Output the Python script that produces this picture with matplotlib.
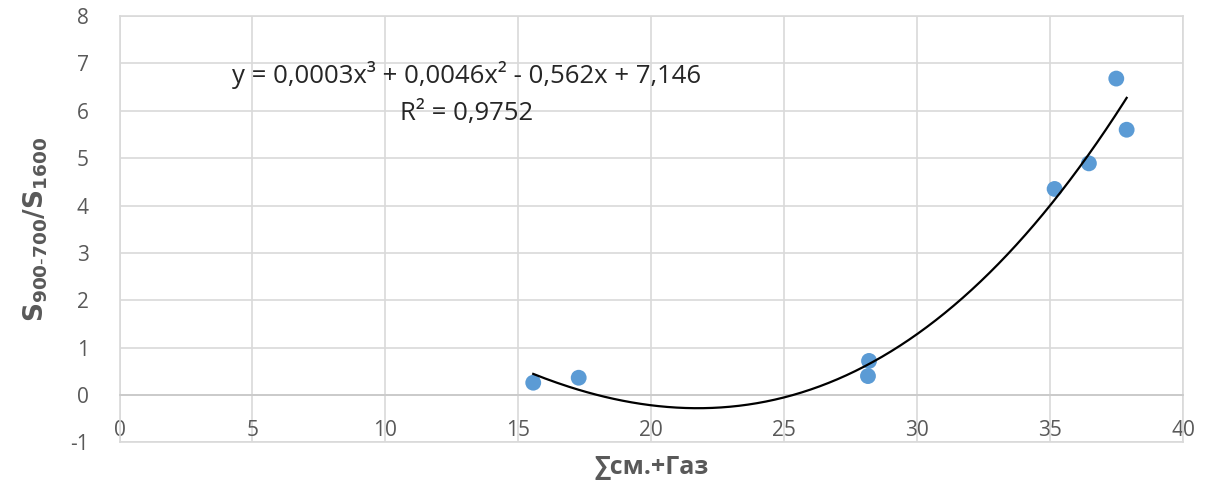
"""Scatter with cubic trendline: S900-700/S1600 vs sum of components."""

import matplotlib

matplotlib.use("Agg")
import matplotlib.pyplot as plt
import numpy as np

# data
x_vals = [15.56, 17.27, 28.19, 28.15, 35.17, 36.46, 37.49, 37.88]
y_vals = [0.26, 0.365, 0.72, 0.40, 4.35, 4.89, 6.68, 5.60]

x_ticks = [0, 5, 10, 15, 20, 25, 30, 35, 40]
y_ticks = [-1, 0, 1, 2, 3, 4, 5, 6, 7, 8]

equation = "y = 0,0003x³ + 0,0046x² - 0,562x + 7,146"
r2_text = "R² = 0,9752"

plt.rcParams["font.family"] = ["Open Sans", "DejaVu Sans"]
plt.rcParams["axes.unicode_minus"] = False

fig = plt.figure(figsize=(12.1, 4.86), dpi=100)
ax = fig.add_axes([0.0988, 0.0897, 0.8789, 0.8773])

ax.set_xlim(0, 40)
ax.set_ylim(-1, 8)
ax.set_xticks(x_ticks)
ax.set_yticks(y_ticks)

grid_col = "#d9d9d9"
ax.grid(True, color=grid_col, linewidth=1.2)
ax.set_axisbelow(True)
for side in ["top", "right", "left"]:
    ax.spines[side].set_color(grid_col)
    ax.spines[side].set_linewidth(1.2)
ax.spines["bottom"].set_position(("data", 0))
ax.spines["bottom"].set_color("#c8c8c8")
ax.spines["bottom"].set_linewidth(1.2)
ax.axhline(-1, color=grid_col, linewidth=1.2, clip_on=False, zorder=0)

ax.tick_params(axis="both", length=0, labelsize=15, labelcolor="#595959")
ax.tick_params(axis="x", pad=18)
ax.tick_params(axis="y", pad=22)

ax.scatter(x_vals, y_vals, s=130, color="#5B9BD5", edgecolors="none", zorder=3)

# cubic trendline fitted to the points
coef = np.polyfit(x_vals, y_vals, 3)
xs = np.linspace(min(x_vals), max(x_vals), 200)
ax.plot(xs, np.polyval(coef, xs), color="black", linewidth=1.6, zorder=4)

ax.text(13.06, 6.75, equation, ha="center", va="center", fontsize=18.5, color="#262626")
ax.text(13.06, 5.95, r2_text, ha="center", va="center", fontsize=18.5, color="#262626")

ax.set_xlabel("∑см.+Газ", fontsize=18, fontweight="bold", color="#595959")
ax.xaxis.set_label_coords(0.5, -0.03)
ax.set_ylabel(r"$\mathbf{S_{900\text{-}700}/S_{1600}}$", fontsize=19, color="#595959")
ax.yaxis.set_label_coords(-0.065, 0.5)

fig.savefig("out.png", dpi=100)
